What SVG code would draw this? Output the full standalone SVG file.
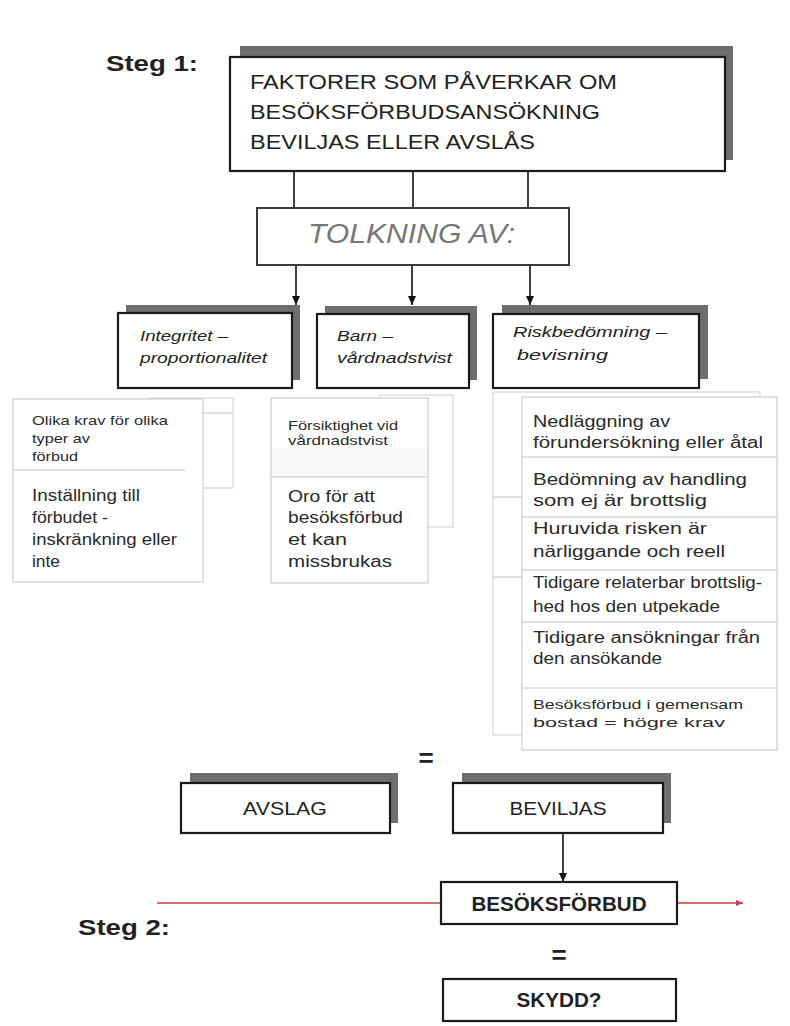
<svg xmlns="http://www.w3.org/2000/svg" width="790" height="1026" viewBox="0 0 790 1026">
<style>
text{font-family:"Liberation Sans",Arial,sans-serif;fill:#222}
.b{font-weight:bold}
.it{font-style:italic}
.box{fill:#fff;stroke:#1a1a1a;stroke-width:2.2}
.sh{fill:#6e6e6e}
.list{fill:#fff;stroke:#c4c4c4;stroke-width:1}
.back{fill:#fff;stroke:#cfcfcf;stroke-width:1}
.div{stroke:#c4c4c4;stroke-width:1}
.conn{stroke:#111;stroke-width:1.6;fill:none}
.li{font-size:16px;fill:#2a2a2a}
.ls{font-size:13px;fill:#2a2a2a}
.cat{font-size:15px}
</style>
<defs>
<marker id="ah" markerUnits="userSpaceOnUse" markerWidth="10" markerHeight="10" refX="9" refY="5" orient="auto">
<path d="M0,1 L9,5 L0,9 Z" fill="#111"/>
</marker>
<marker id="ahr" markerUnits="userSpaceOnUse" markerWidth="8" markerHeight="8" refX="7" refY="4" orient="auto">
<path d="M0,1 L7,4 L0,7 Z" fill="#c94040"/>
</marker>
</defs>
<rect width="790" height="1026" fill="#fff"/>

<g id="steg1"><text class="b" x="106" y="71" font-size="22" textLength="92" lengthAdjust="spacingAndGlyphs">Steg 1:</text></g>

<g id="connectors">
<line class="conn" x1="294" y1="171" x2="294" y2="208"/>
<line class="conn" x1="413" y1="171" x2="413" y2="208"/>
<line class="conn" x1="528" y1="171" x2="528" y2="208"/>
<line class="conn" x1="296" y1="265" x2="296" y2="305" marker-end="url(#ah)"/>
<line class="conn" x1="412" y1="265" x2="412" y2="305" marker-end="url(#ah)"/>
<line class="conn" x1="530" y1="265" x2="530" y2="305" marker-end="url(#ah)"/>
<line class="conn" x1="563" y1="833" x2="563" y2="882" marker-end="url(#ah)"/>
<line x1="157" y1="903" x2="441" y2="903" stroke="#c94040" stroke-width="1.6"/>
<line x1="677" y1="903" x2="743" y2="903" stroke="#c94040" stroke-width="1.6" marker-end="url(#ahr)"/>
</g>

<g id="faktorer">
<rect class="sh" x="240" y="46" width="493" height="114"/>
<rect class="box" x="230" y="57" width="495" height="114" stroke-width="2.6"/>
<text x="250" y="89" font-size="20" fill="#2a2a2a" textLength="367" lengthAdjust="spacingAndGlyphs">FAKTORER SOM PÅVERKAR OM</text>
<text x="250" y="119" font-size="20" fill="#2a2a2a" textLength="350" lengthAdjust="spacingAndGlyphs">BESÖKSFÖRBUDSANSÖKNING</text>
<text x="250" y="149" font-size="20" fill="#2a2a2a" textLength="285" lengthAdjust="spacingAndGlyphs">BEVILJAS ELLER AVSLÅS</text>
</g>

<g id="tolkning">
<rect x="257" y="208" width="312" height="57" fill="#fff" stroke="#3a3a3a" stroke-width="2"/>
<text class="it" x="308" y="243" font-size="27" style="fill:#777" textLength="207" lengthAdjust="spacingAndGlyphs">TOLKNING AV:</text>
</g>

<g id="integritet">
<rect class="sh" x="126" y="305" width="174" height="75"/>
<rect class="box" x="118" y="313" width="174" height="75"/>
<text class="it cat" x="140" y="341" textLength="88" lengthAdjust="spacingAndGlyphs">Integritet –</text>
<text class="it cat" x="140" y="363" textLength="127" lengthAdjust="spacingAndGlyphs">proportionalitet</text>
</g>

<g id="barn">
<rect class="sh" x="325" y="306" width="152" height="74"/>
<rect class="box" x="317" y="314" width="152" height="74"/>
<text class="it cat" x="337" y="341" textLength="56" lengthAdjust="spacingAndGlyphs">Barn –</text>
<text class="it cat" x="337" y="363" textLength="115" lengthAdjust="spacingAndGlyphs">vårdnadstvist</text>
</g>

<g id="risk">
<rect class="sh" x="502" y="305" width="206" height="74"/>
<rect class="box" x="493" y="314" width="206" height="74"/>
<text class="it cat" x="513" y="337" textLength="154" lengthAdjust="spacingAndGlyphs">Riskbedömning –</text>
<text class="it cat" x="517" y="360" textLength="91" lengthAdjust="spacingAndGlyphs">bevisning</text>
</g>

<g id="lista-integritet">
<rect class="back" x="150" y="398" width="83" height="90"/>
<line class="div" x1="203" y1="413" x2="233" y2="413"/>
<rect class="list" x="13" y="399" width="190" height="183"/>
<line class="div" x1="13" y1="470" x2="185" y2="470"/>
<text class="ls" x="32" y="425" textLength="136" lengthAdjust="spacingAndGlyphs">Olika krav för olika</text>
<text class="ls" x="32" y="443" textLength="58" lengthAdjust="spacingAndGlyphs">typer av</text>
<text class="ls" x="32" y="461" textLength="46" lengthAdjust="spacingAndGlyphs">förbud</text>
<text class="li" x="32" y="501" textLength="108" lengthAdjust="spacingAndGlyphs">Inställning till</text>
<text class="li" x="32" y="523" textLength="76" lengthAdjust="spacingAndGlyphs">förbudet -</text>
<text class="li" x="32" y="545" textLength="145" lengthAdjust="spacingAndGlyphs">inskränkning eller</text>
<text class="li" x="32" y="567" textLength="28" lengthAdjust="spacingAndGlyphs">inte</text>
</g>

<g id="lista-barn">
<rect class="back" x="380" y="395" width="73" height="132"/>
<rect class="list" x="271" y="398" width="157" height="185"/>
<rect x="272" y="448" width="155" height="29" fill="#f8f8f8"/>
<line class="div" x1="271" y1="477" x2="428" y2="477" stroke="#dcdcdc"/>
<text class="ls" x="288" y="430" textLength="110" lengthAdjust="spacingAndGlyphs">Försiktighet vid</text>
<text class="ls" x="288" y="445" textLength="100" lengthAdjust="spacingAndGlyphs">vårdnadstvist</text>
<text class="li" x="288" y="502" textLength="87" lengthAdjust="spacingAndGlyphs">Oro för att</text>
<text class="li" x="288" y="523" textLength="115" lengthAdjust="spacingAndGlyphs">besöksförbud</text>
<text class="li" x="288" y="545" textLength="59" lengthAdjust="spacingAndGlyphs">et  kan</text>
<text class="li" x="288" y="567" textLength="104" lengthAdjust="spacingAndGlyphs">missbrukas</text>
</g>

<g id="lista-risk">
<rect class="back" x="493" y="392" width="267" height="343"/>
<line class="div" x1="493" y1="497" x2="522" y2="497"/>
<line class="div" x1="493" y1="577" x2="522" y2="577"/>
<rect class="list" x="522" y="397" width="255" height="353"/>
<line class="div" x1="522" y1="457" x2="777" y2="457"/>
<line class="div" x1="522" y1="517" x2="777" y2="517"/>
<line class="div" x1="522" y1="570" x2="777" y2="570"/>
<line class="div" x1="522" y1="622" x2="777" y2="622"/>
<line class="div" x1="522" y1="688" x2="777" y2="688"/>
<text class="li" x="533" y="427" textLength="137" lengthAdjust="spacingAndGlyphs">Nedläggning av</text>
<text class="li" x="533" y="448" textLength="230" lengthAdjust="spacingAndGlyphs">förundersökning eller åtal</text>
<text class="li" x="533" y="485" textLength="214" lengthAdjust="spacingAndGlyphs">Bedömning av handling</text>
<text class="li" x="533" y="506" textLength="174" lengthAdjust="spacingAndGlyphs">som ej är brottslig</text>
<text class="li" x="533" y="534" textLength="174" lengthAdjust="spacingAndGlyphs">Huruvida risken är</text>
<text class="li" x="533" y="557" textLength="192" lengthAdjust="spacingAndGlyphs">närliggande och reell</text>
<text class="li" x="533" y="588" textLength="229" lengthAdjust="spacingAndGlyphs">Tidigare relaterbar brottslig-</text>
<text class="li" x="533" y="612" textLength="187" lengthAdjust="spacingAndGlyphs">hed hos den utpekade</text>
<text class="li" x="533" y="643" textLength="227" lengthAdjust="spacingAndGlyphs">Tidigare ansökningar från</text>
<text class="li" x="533" y="664" textLength="129" lengthAdjust="spacingAndGlyphs">den ansökande</text>
<text class="ls" x="533" y="709" textLength="210" lengthAdjust="spacingAndGlyphs">Besöksförbud i gemensam</text>
<text class="ls" x="533" y="727" textLength="192" lengthAdjust="spacingAndGlyphs">bostad = högre krav</text>
</g>

<g id="lika1"><text class="b" x="426" y="767" font-size="26" text-anchor="middle">=</text></g>

<g id="avslag">
<rect class="sh" x="190" y="773" width="208" height="50"/>
<rect class="box" x="181" y="783" width="209" height="50"/>
<text x="285" y="815" font-size="18" text-anchor="middle" textLength="84" lengthAdjust="spacingAndGlyphs">AVSLAG</text>
</g>

<g id="beviljas">
<rect class="sh" x="462" y="773" width="209" height="50"/>
<rect class="box" x="453" y="783" width="210" height="50"/>
<text x="558" y="815" font-size="18" text-anchor="middle" textLength="97" lengthAdjust="spacingAndGlyphs">BEVILJAS</text>
</g>

<g id="besoksforbud">
<rect class="box" x="441" y="882" width="236" height="42"/>
<text class="b" x="559" y="911" font-size="20" text-anchor="middle" textLength="175" lengthAdjust="spacingAndGlyphs">BESÖKSFÖRBUD</text>
</g>

<g id="steg2"><text class="b" x="78" y="935" font-size="22" textLength="92" lengthAdjust="spacingAndGlyphs">Steg 2:</text></g>

<g id="lika2"><text class="b" x="559" y="964" font-size="26" text-anchor="middle">=</text></g>

<g id="skydd">
<rect class="box" x="443" y="979" width="233" height="42"/>
<text class="b" x="559" y="1007" font-size="20" text-anchor="middle" textLength="85" lengthAdjust="spacingAndGlyphs">SKYDD?</text>
</g>
</svg>
